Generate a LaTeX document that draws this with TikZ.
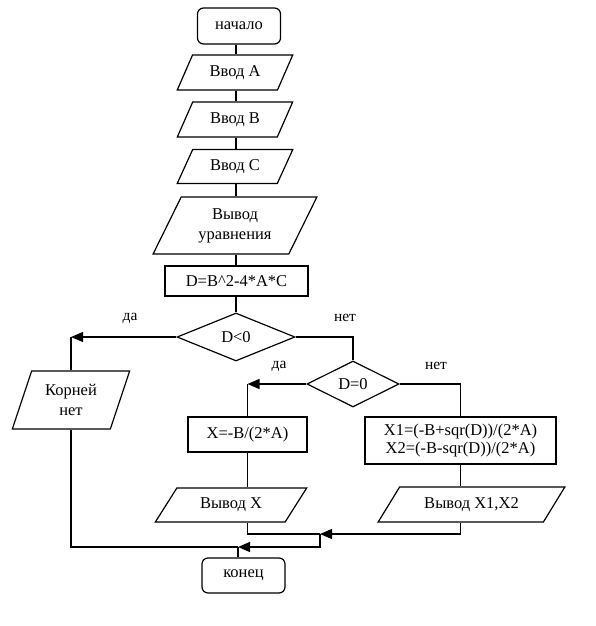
\documentclass[tikz,border=0pt]{standalone}
\usepackage{fontspec}
\setmainfont{Liberation Serif}
\usetikzlibrary{shapes.geometric,arrows.meta}
\begin{document}
\begin{tikzpicture}[x=1pt,y=-1pt,
  every node/.style={font=\fontsize{16.5}{20}\selectfont, inner sep=0pt, align=center},
  term/.style={draw, rectangle, rounded corners=6pt, line width=1.2pt},
  proc/.style={draw, rectangle, line width=1.2pt},
  io/.style={draw, trapezium, trapezium stretches=true, line width=1.2pt},
  dec/.style={draw, diamond, line width=1.2pt},
  line/.style={line width=1.2pt},
  arr/.style={line width=1.2pt, -{Triangle[length=12pt,width=10pt]}},
  lbl/.style={font=\fontsize{15.5}{17}\selectfont}
]
\useasboundingbox (0,0) rectangle (596,626);
\coordinate (col) at (236,0);

\node[term, minimum width=83pt, minimum height=36pt] (start) at (239,26) {начало};
\node[io, trapezium left angle=57, trapezium right angle=123, minimum width=116pt, minimum height=35pt] (ina) at (235,72.5) {Ввод A};
\node[io, trapezium left angle=57, trapezium right angle=123, minimum width=116pt, minimum height=35pt] (inb) at (235,119.5) {Ввод B};
\node[io, trapezium left angle=57, trapezium right angle=123, minimum width=116pt, minimum height=34pt] (inc) at (235,166.5) {Ввод C};
\node[io, trapezium left angle=61, trapezium right angle=119, minimum width=164pt, minimum height=57pt] (outeq) at (235,225.5) {Вывод\\уравнения};
\node[proc, minimum width=143pt, minimum height=30pt] (calc) at (236.5,281) {D=B\textasciicircum2-4*A*C};
\node[dec, minimum width=118pt, minimum height=48pt] (d1) at (236,337) {D<0};
\node[dec, minimum width=92pt, minimum height=46pt] (d2) at (353,384) {D=0};
\node[io, trapezium left angle=68, trapezium right angle=112, minimum width=118pt, minimum height=58pt] (noroot) at (71,400) {Корней\\нет};
\node[proc, minimum width=119pt, minimum height=35pt] (x) at (247.5,434.5) {X=-B/(2*A)};
\node[proc, minimum width=191pt, minimum height=47pt, font=\fontsize{16.5}{18.5}\selectfont] (x12) at (460.5,440.5) {X1=(-B+sqr(D))/(2*A)\\X2=(-B-sqr(D))/(2*A)};
\node[io, trapezium left angle=48.6, trapezium right angle=131.4, minimum width=152pt, minimum height=34pt] (outx) at (231,505) {Вывод X};
\node[io, trapezium left angle=45, trapezium right angle=135, minimum width=187pt, minimum height=35pt] (outx12) at (471.5,504.5) {Вывод X1,X2};
\node[term, minimum width=83pt, minimum height=35pt] (end) at (243.5,575.5) {конец};

\node[lbl] (l1) at (130,318) {да};
\node[lbl] (l2) at (345,318) {нет};
\node[lbl] (l3) at (279,366) {да};
\node[lbl] (l4) at (436,366) {нет};

% main column
\draw[line] (start.south -| col) -- (ina.north -| col);
\draw[line] (ina.south -| col) -- (inb.north -| col);
\draw[line] (inb.south -| col) -- (inc.north -| col);
\draw[line] (inc.south -| col) -- (outeq.north -| col);
\draw[line] (outeq.south -| col) -- (calc.north -| col);
\draw[line] (calc.south -| col) -- (d1.north -| col);

% D<0 branches
\coordinate (c1) at (noroot.north |- d1.west);
\draw[arr] (d1.west) -- (c1);
\draw[line] (c1) -- (noroot.north);
\draw[line] (d1.east) -| (d2.north);

% D=0 branches
\coordinate (c2) at (x.north |- d2.west);
\draw[arr] (d2.west) -- (c2);
\draw[line] (c2) -- (x.north);
\draw[line] (d2.east) -| (x12.north);

\draw[line] (x.south) -- (x.south |- outx.north);
\draw[line] (x12.south) -- (x12.south |- outx12.north);

% merges
\coordinate (m1) at (320,534);
\coordinate (m2) at (238,547);
\draw[line] (x.south |- outx.south) -- (x.south |- m1) -- (m1);
\draw[arr] (x12.south |- outx12.south) -- (x12.south |- m1) -- (m1);
\draw[arr] (m1) -- (m1 |- m2) -- (m2);
\draw[line] (noroot.south) -- (noroot.south |- m2) -- (m2);
\draw[line] (m2) -- (m2 |- end.north);
\end{tikzpicture}
\end{document}
